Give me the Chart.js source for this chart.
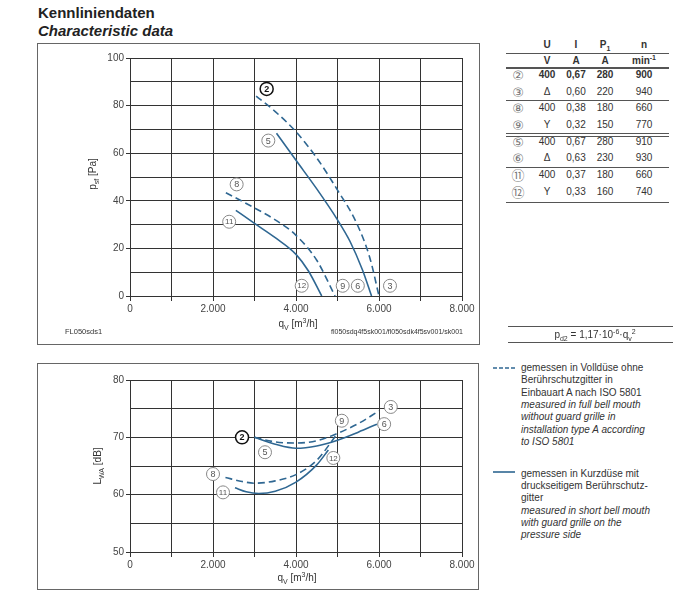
<!DOCTYPE html>
<html>
<head>
<meta charset="utf-8">
<title>Kennliniendaten</title>
<script src="https://cdn.jsdelivr.net/npm/chart.js"></script>
<style>
  body { margin: 0; width: 688px; height: 593px; background: #fff; position: relative; overflow: hidden;
         font-family: Arial, "Liberation Sans", sans-serif; color: #333; }
  .t { position: absolute; white-space: nowrap; line-height: 1; }
  .c { transform: translate(-50%, -50%); }
  .box { position: absolute; border: 1px solid #666; box-sizing: border-box; }
  .hl { position: absolute; background: #555; height: 1px; }
  canvas { position: absolute; }
  sub, sup { font-size: 70%; line-height: 0; }
  .rot { transform: translate(-50%, -50%) rotate(-90deg); }
  .circ { font-family: "DejaVu Sans", "Noto Sans CJK SC", sans-serif; color: #777; }
</style>
</head>
<body>
<div class="t" style="left:38px;top:5px;font-size:15px;font-weight:bold;color:#222">Kennliniendaten</div>
<div class="t" style="left:38px;top:23px;font-size:15px;font-weight:bold;font-style:italic;color:#222">Characteristic data</div>

<div class="box" style="left:37px;top:43px;width:443px;height:302px"></div>
<div class="box" style="left:37px;top:363px;width:442px;height:227px"></div>

<canvas id="top" width="440" height="275" style="left:38px;top:44px"></canvas>
<canvas id="bottom" width="440" height="210" style="left:38px;top:365px"></canvas>

<div class="t rot" style="left:93px;top:174px;font-size:10px">p<sub>sf</sub> [Pa]</div>
<div class="t c" style="left:298px;top:324px;font-size:10px">q<sub>V</sub> [m<sup>3</sup>/h]</div>
<div class="t" style="left:65px;top:328px;font-size:7.5px">FL050sds1</div>
<div class="t" style="left:331px;top:328px;font-size:7px">fl050sdq4f5sk001/fl050sdk4f5sv001/sk001</div>

<div class="t rot" style="left:98px;top:466px;font-size:10px">L<sub>WA</sub> [dB]</div>
<div class="t c" style="left:297px;top:578px;font-size:10px">q<sub>V</sub> [m<sup>3</sup>/h]</div>

<div id="table"></div>

<div class="hl" style="left:508px;top:326px;width:165px"></div>
<div class="t c" style="left:595px;top:335px;font-size:10px">p<sub>d2</sub> = 1,17·10<sup>-6</sup>·q<sub>v</sub><sup>2</sup></div>
<div class="hl" style="left:508px;top:342px;width:165px"></div>

<svg style="position:absolute;left:490px;top:360px" width="30" height="120">
  <line x1="3" y1="8" x2="25" y2="8" stroke="#2f6792" stroke-width="1.6" stroke-dasharray="4,2"/>
  <line x1="3" y1="112" x2="25" y2="112" stroke="#2f6792" stroke-width="1.6"/>
</svg>
<div id="legend"></div>

<script>
// --- Kennlinien p_sf (Pa) over q_V (m3/h) ---
const q2 = [3040, 3500, 4000, 4500, 5000, 5450, 5780, 6000];
const p2 = [84, 77.5, 69, 58, 44.5, 31, 16, 0];
const q5 = [3530, 4000, 4500, 5000, 5300, 5600, 5820];
const p5 = [68.4, 57, 45, 32, 23, 11, 0];
const q8 = [2310, 3000, 3500, 4000, 4500, 4940];
const p8 = [43.4, 37, 32, 25.5, 15, 0];
const q11 = [2550, 3000, 3500, 4000, 4300, 4620];
const p11 = [36, 30.5, 24.5, 17.5, 10.5, 0];

// --- Schallleistung L_WA (dB) ---
const lq2 = [3000, 3500, 4000, 4500, 5000, 5500, 6000];
const l2 = [70, 69.2, 69, 69.4, 70.7, 72.4, 74.6];
const lq5 = [3000, 3500, 4000, 4500, 5000, 5500, 5950];
const l5 = [70, 68.8, 68.1, 68.5, 69.5, 70.9, 72.3];
const lq8 = [2300, 2700, 3000, 3500, 4000, 4500, 5000];
const l8 = [63, 62.3, 62, 62.4, 63.5, 66, 70.7];
const lq11 = [2530, 2800, 3100, 3500, 4000, 4500, 4780];
const l11 = [61.2, 60.5, 60.2, 60.6, 62.2, 65.2, 67.8];

// circled curve numbers (number, q, value)
const topLabelNum = ['2', '5', '8', '11', '12', '9', '6', '3'];
const topLabelQ = [3293, 3333, 2570, 2390, 4137, 5125, 5490, 6265];
const topLabelV = [87, 65.3, 46.9, 31.2, 4.3, 4.3, 4.3, 4.3];
const botLabelNum = ['2', '5', '8', '11', '9', '3', '6', '12'];
const botLabelQ = [2700, 3253, 2000, 2241, 5104, 6284, 6124, 4900];
const botLabelV = [70, 67.4, 63.6, 60.4, 72.9, 75.3, 72.3, 66.4];

// table
const tableHead = ['U', 'I', 'P<sub>1</sub>', 'n'];
const tableUnits = ['V', 'A', 'A', 'min<sup>-1</sup>'];
const tableRows = [
  ['②', '400', '0,67', '280', '900'],
  ['③', 'Δ', '0,60', '220', '940'],
  ['⑧', '400', '0,38', '180', '660'],
  ['⑨', 'Y', '0,32', '150', '770'],
  ['⑤', '400', '0,67', '280', '910'],
  ['⑥', 'Δ', '0,63', '230', '930'],
  ['⑪', '400', '0,37', '180', '660'],
  ['⑫', 'Y', '0,33', '160', '740']
];

const legendDashed = ['gemessen in Volldüse ohne', 'Berührschutzgitter in', 'Einbauart A nach ISO 5801',
  '<i>measured in full bell mouth</i>', '<i>without guard grille in</i>', '<i>installation type A according</i>', '<i>to ISO 5801</i>'];
const legendSolid = ['gemessen in Kurzdüse mit', 'druckseitigem Berührschutz-', 'gitter',
  '<i>measured in short bell mouth</i>', '<i>with guard grille on the</i>', '<i>pressure side</i>'];

// build table
const colX = [518, 547, 576, 605, 644];
const rowY = [75, 91.7, 108.3, 125, 141.7, 158.3, 175, 191.7];
let html = '';
tableHead.forEach((h, i) => { html += `<div class="t c" style="left:${colX[i + 1]}px;top:45px;font-size:10px;font-weight:bold">${h}</div>`; });
tableUnits.forEach((h, i) => { html += `<div class="t c" style="left:${colX[i + 1]}px;top:61px;font-size:10px;font-weight:bold">${h}</div>`; });
tableRows.forEach((r, j) => {
  r.forEach((v, i) => {
    const cls = i === 0 ? 't c circ' : 't c';
    const fw = (j === 0 && i > 0) ? 'bold' : 'normal';
    const fs = i === 0 ? 13 : 10;
    html += `<div class="${cls}" style="left:${colX[i]}px;top:${rowY[j]}px;font-size:${fs}px;font-weight:${fw}">${v}</div>`;
  });
});
[52.5, 67, 100, 133, 135.5, 166.5, 201.5].forEach((y, i) => {
  html += `<div class="hl" style="left:506px;top:${y}px;width:163px;height:${i === 1 ? 1.5 : 1}px"></div>`;
});
document.getElementById('table').innerHTML = html;

let lg = '';
legendDashed.forEach((s, i) => { lg += `<div class="t" style="left:521px;top:${363 + i * 12.3}px;font-size:10px">${s}</div>`; });
legendSolid.forEach((s, i) => { lg += `<div class="t" style="left:521px;top:${469 + i * 12.2}px;font-size:10px">${s}</div>`; });
document.getElementById('legend').innerHTML = lg;

// --- charts ---
const LINE = '#2f6792';
const GRID = '#333';
const FONT = { family: 'Arial, "Liberation Sans", sans-serif', size: 10 };

function pts(xs, ys) { return xs.map((x, i) => ({ x: x, y: ys[i] })); }

function ds(xs, ys, dashed) {
  return {
    data: pts(xs, ys), borderColor: LINE, borderWidth: 1.6, borderDash: dashed ? [7, 4] : [],
    pointRadius: 0, fill: false, cubicInterpolationMode: 'monotone', showLine: true
  };
}

function labelPlugin(nums, qs, vs) {
  return {
    id: 'circleLabels',
    afterDatasetsDraw(chart) {
      const { ctx, scales } = chart;
      ctx.save();
      nums.forEach((n, i) => {
        const px = scales.x.getPixelForValue(qs[i]);
        const py = scales.y.getPixelForValue(vs[i]);
        const bold = n === '2';
        ctx.beginPath();
        ctx.arc(px, py, 6.5, 0, Math.PI * 2);
        ctx.fillStyle = '#fff';
        ctx.fill();
        ctx.lineWidth = bold ? 1.5 : 1;
        ctx.strokeStyle = bold ? '#111' : '#888';
        ctx.stroke();
        ctx.fillStyle = bold ? '#111' : '#555';
        ctx.font = (bold ? 'bold ' : '') + (n.length > 1 ? '8px ' : '9px ') + FONT.family;
        ctx.textAlign = 'center';
        ctx.textBaseline = 'middle';
        ctx.fillText(n, px, py + 0.5);
      });
      ctx.restore();
    }
  };
}

function makeChart(id, datasets, yMin, yMax, yStep, yLabelEvery, padTop, plugin) {
  return new Chart(document.getElementById(id), {
    type: 'scatter',
    data: { datasets: datasets },
    options: {
      responsive: false,
      animation: false,
      layout: { padding: { top: padTop, right: 16, left: 0, bottom: 0 } },
      plugins: { legend: { display: false }, tooltip: { enabled: false } },
      scales: {
        x: {
          type: 'linear', min: 0, max: 8000,
          afterFit(scale) { scale.height = 23; },
          ticks: {
            stepSize: 1000, autoSkip: false, maxRotation: 0, padding: 2, color: '#444', font: FONT,
            callback: v => v === 0 ? '0' : (v % 2000 === 0 ? (v / 1000) + '.000' : '')
          },
          grid: { color: GRID, lineWidth: 1, tickLength: 5, tickColor: GRID },
          border: { color: GRID }
        },
        y: {
          min: yMin, max: yMax,
          afterFit(scale) { scale.width = 92; },
          ticks: {
            stepSize: yStep, autoSkip: false, padding: 2, color: '#444', font: FONT,
            callback: v => (v % yLabelEvery === 0 ? String(v) : '')
          },
          grid: {
            color: GRID, lineWidth: 1, tickLength: 4,
            tickColor: c => (c.tick && c.tick.value % yLabelEvery === 0 ? GRID : 'rgba(0,0,0,0)')
          },
          border: { color: GRID }
        }
      }
    },
    plugins: [plugin]
  });
}

makeChart('top', [ds(q2, p2, true), ds(q5, p5, false), ds(q8, p8, true), ds(q11, p11, false)],
  0, 100, 10, 20, 14, labelPlugin(topLabelNum, topLabelQ, topLabelV));

makeChart('bottom', [ds(lq2, l2, true), ds(lq5, l5, false), ds(lq8, l8, true), ds(lq11, l11, false)],
  50, 80, 5, 10, 15, labelPlugin(botLabelNum, botLabelQ, botLabelV));
</script>
</body>
</html>
